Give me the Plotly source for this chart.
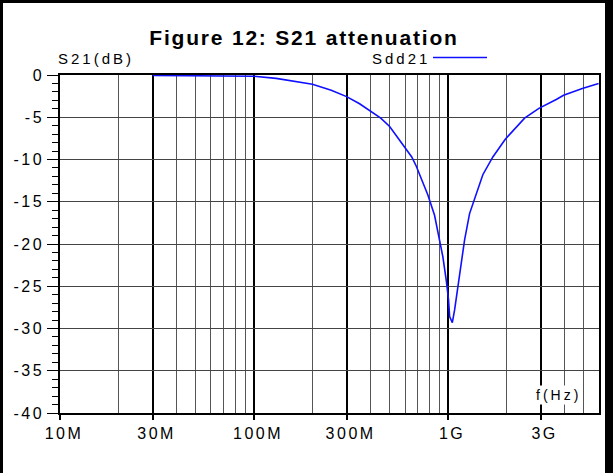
import plotly.graph_objects as go

# ---- data ----
freq_hz = [30e6, 40e6, 50e6, 70e6, 100e6, 130e6, 170e6, 200e6, 250e6, 300e6,
           350e6, 400e6, 450e6, 500e6, 574e6, 600e6, 650e6, 686e6, 727e6, 787e6, 852e6,
           904e6, 940e6, 979e6, 1.006e9, 1.019e9, 1.052e9, 1.081e9, 1.124e9,
           1.170e9, 1.217e9, 1.291e9, 1.397e9, 1.511e9, 1.702e9, 1.972e9,
           2.48e9, 2.94e9, 3.61e9, 3.94e9, 4.92e9, 5.97e9]
sdd21_db = [-0.05, -0.06, -0.08, -0.10, -0.15, -0.40, -0.80, -1.10, -1.80, -2.56,
            -3.40, -4.25, -5.10, -6.10, -8.00, -8.70, -9.7, -10.8, -12.2, -14.2, -16.6,
            -19.5, -21.5, -24.3, -26.6, -28.6, -29.3, -27.8, -25.0,
            -21.9, -19.5, -16.4, -14.0, -11.8, -9.7, -7.6,
            -5.1, -3.95, -2.9, -2.4, -1.6, -1.0]

x_major_vals = [1e7, 3e7, 1e8, 3e8, 1e9, 3e9]
x_major_text = ["10M", "30M", "100M", "300M", "1G", "3G"]
x_minor_vals = [2e7, 4e7, 5e7, 6e7, 7e7, 8e7, 9e7,
                2e8, 4e8, 5e8, 6e8, 7e8, 8e8, 9e8,
                2e9, 4e9, 5e9]
y_major_vals = [0, -5, -10, -15, -20, -25, -30, -35, -40]
y_major_text = ["0", "-5", "-10", "-15", "-20", "-25", "-30", "-35", "-40"]

W, H = 616, 473
ML, MR, MT, MB = 60, 17, 75, 60
PW, PH = W - ML - MR, H - MT - MB

def px(x):
    return (x - ML) / PW

def py(y):
    return (H - MB - y) / PH

FONT = "Liberation Sans, Arial, sans-serif"

def spaced(s, ls):
    return '<span style="letter-spacing:%spx">%s</span>' % (ls, s)

fig = go.Figure()
fig.add_trace(go.Scatter(x=freq_hz, y=sdd21_db, mode="lines",
                         line=dict(color="#1010ff", width=1.6),
                         showlegend=False, hoverinfo="skip"))

fig.update_layout(
    width=W, height=H,
    margin=dict(l=ML, r=MR, t=MT, b=MB),
    paper_bgcolor="white", plot_bgcolor="white",
    font=dict(family=FONT, size=15, color="black"),
    title=dict(text="<b>" + spaced("Figure 12: S21 attenuation", 1.8) + "</b>",
               x=304 / W, xanchor="center",
               y=1 - 38 / H, yanchor="middle",
               font=dict(family=FONT, size=21, color="black")),
    showlegend=False,
)

fig.update_xaxes(
    type="log", range=[7, 9.778],
    tickmode="array", tickvals=x_major_vals,
    ticktext=[spaced(t, 2.5) for t in x_major_text],
    ticks="outside", ticklen=5, tickwidth=2, tickcolor="black",
    ticklabelshift=4,
    showgrid=True, gridcolor="black", gridwidth=2,
    showline=True, linecolor="black", linewidth=1.5, mirror=True,
    tickfont=dict(family=FONT, size=16, color="black"),
    minor=dict(tickmode="array", tickvals=x_minor_vals, showgrid=True,
               gridcolor="#555555", gridwidth=1, ticks=""),
    zeroline=False, fixedrange=True,
)
fig.update_yaxes(
    range=[-40, 0],
    tickmode="array", tickvals=y_major_vals,
    ticktext=[spaced(t, 2.5) for t in y_major_text],
    ticks="outside", ticklen=11, tickwidth=1.2, tickcolor="black",
    showgrid=True, gridcolor="#444444", gridwidth=1.4,
    showline=True, linecolor="black", linewidth=1.5, mirror=True,
    tickfont=dict(family=FONT, size=16, color="black"),
    minor=dict(dtick=1, ticks="outside", ticklen=6, tickcolor="black",
               tickwidth=1, showgrid=False),
    zeroline=False, fixedrange=True,
)

# y-axis title above the plot
fig.add_annotation(xref="paper", yref="paper", x=px(56), y=py(59), xanchor="left",
                   yanchor="middle", showarrow=False, text=spaced("S21(dB)", 3),
                   font=dict(family=FONT, size=15, color="black"))
# legend entry
fig.add_annotation(xref="paper", yref="paper", x=px(432), y=py(59), xanchor="right",
                   yanchor="middle", showarrow=False, text=spaced("Sdd21", 3),
                   font=dict(family=FONT, size=15, color="black"))
fig.add_shape(type="line", xref="paper", yref="paper",
              x0=px(433), x1=px(487), y0=py(57.5), y1=py(57.5),
              line=dict(color="#1010ff", width=1.6))
# x-axis label inside plot
fig.add_annotation(xref="paper", yref="paper", x=px(558), y=py(395), xanchor="center",
                   yanchor="middle", showarrow=False, bgcolor="white",
                   text=spaced("f(Hz)", 3),
                   font=dict(family=FONT, size=14, color="black"))

# outer frame bars
def bar(x0, x1, y0, y1):
    fig.add_shape(type="rect", xref="paper", yref="paper",
                  x0=px(x0), x1=px(x1), y0=py(y1), y1=py(y0),
                  fillcolor="black", line=dict(width=0), layer="above")

bar(0, 3, 0, H)
bar(0, 613, 0, 3)
bar(605, 613, 0, H)

fig.write_html("out.html", config={"displayModeBar": False},
               post_script="document.body.style.margin='0';document.body.style.overflow='hidden';")
